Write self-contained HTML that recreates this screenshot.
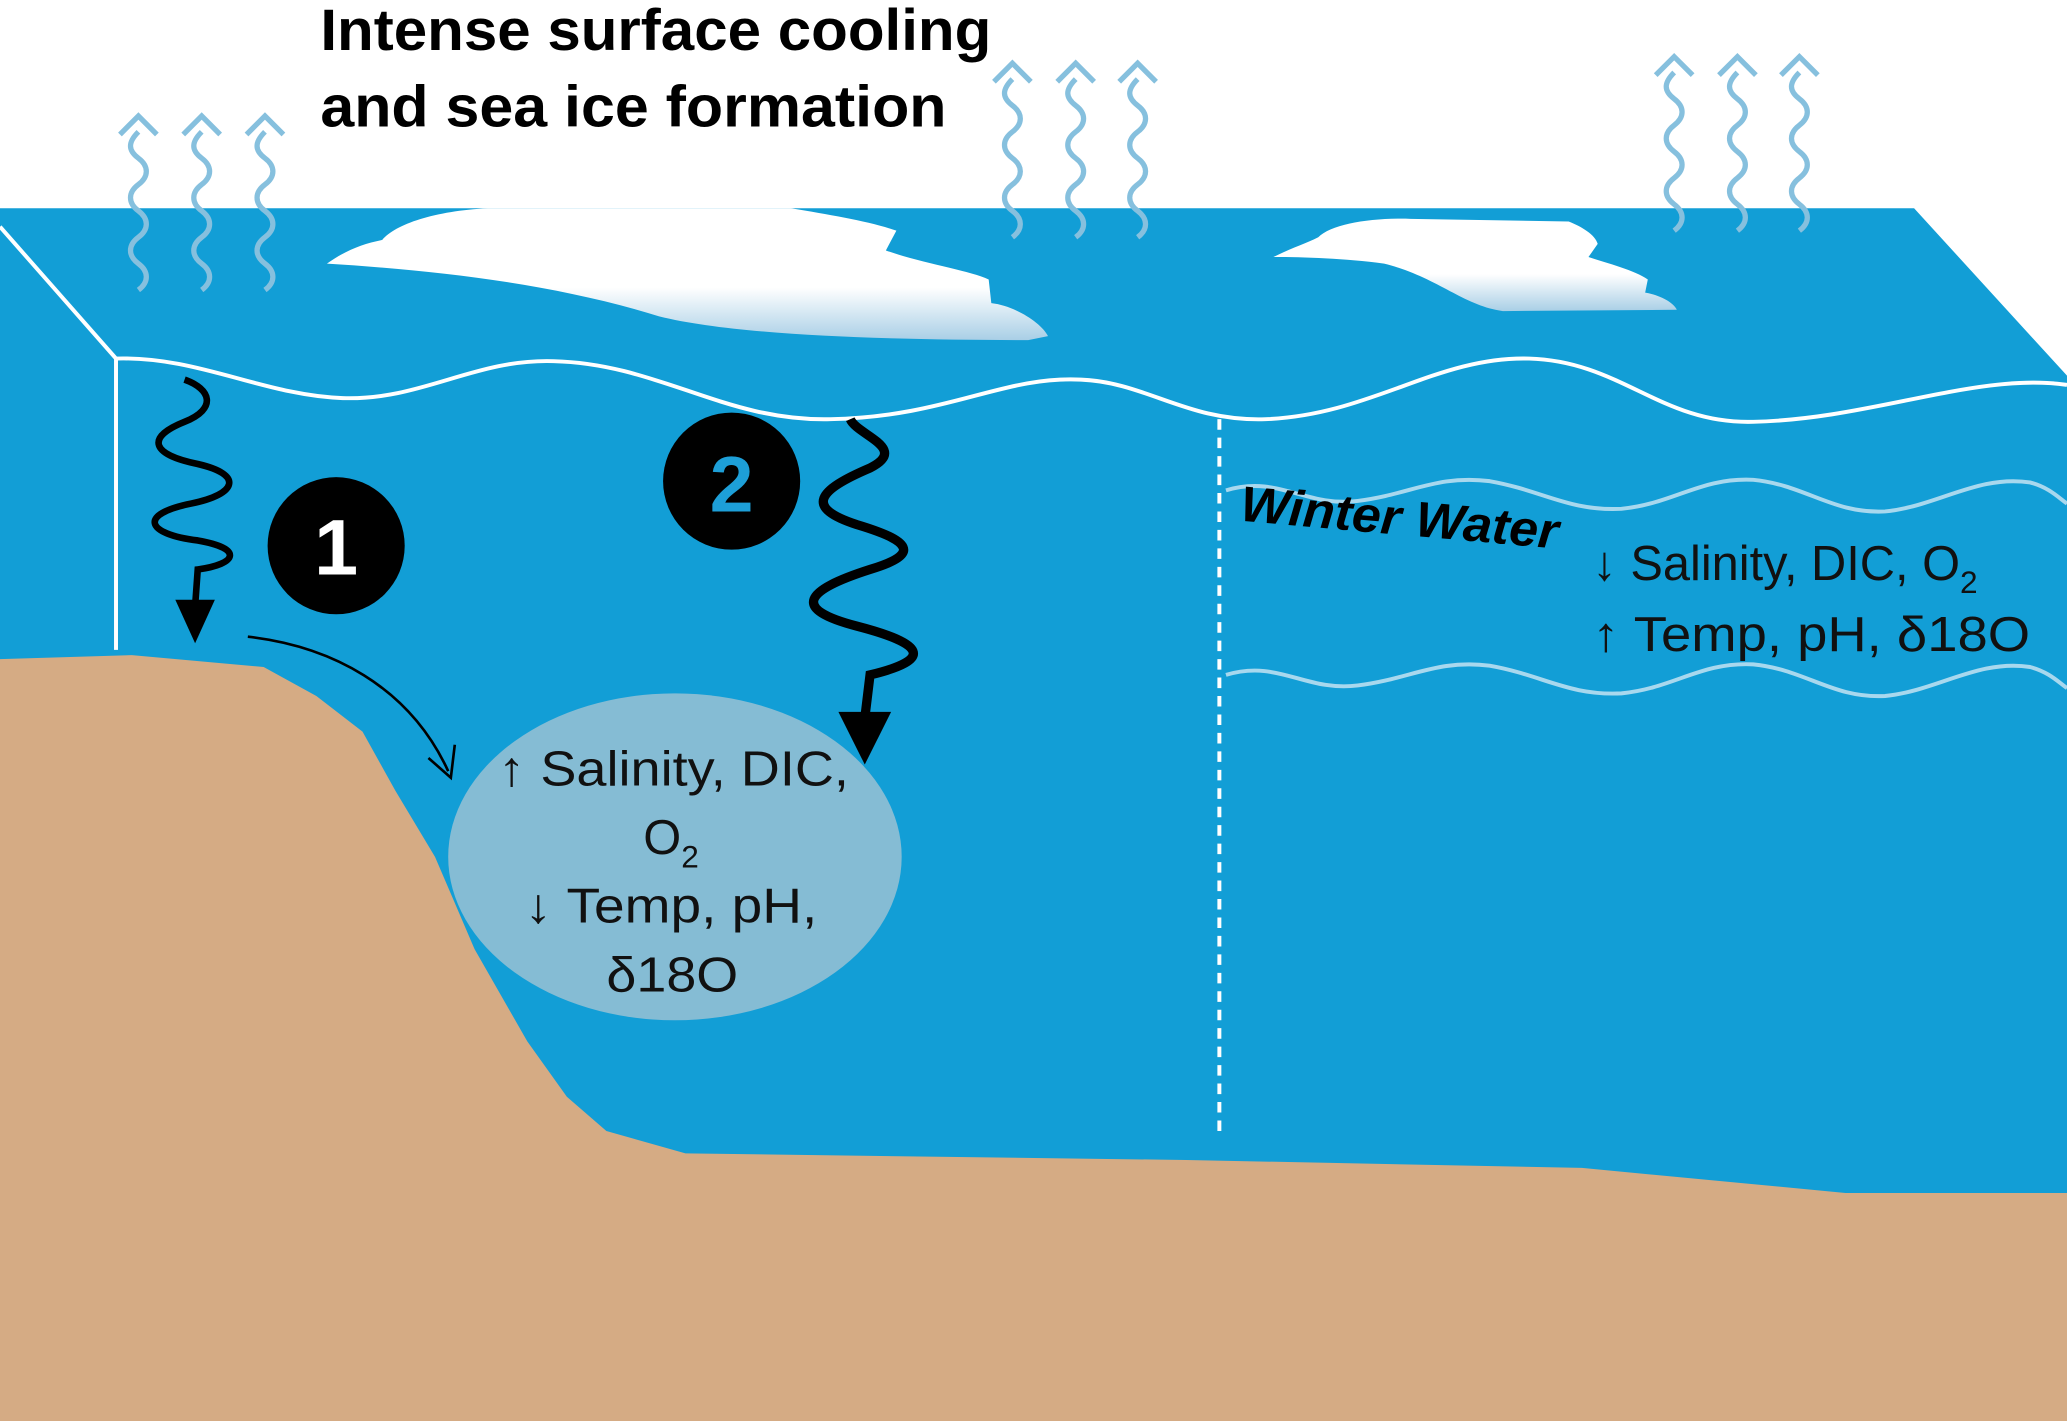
<!DOCTYPE html>
<html><head><meta charset="utf-8"><style>
html,body{margin:0;padding:0;background:#fff;}
svg{display:block;}
text{font-family:"Liberation Sans",sans-serif;}
</style></head><body>
<svg width="2067" height="1421" viewBox="0 0 1568 1078" preserveAspectRatio="none" xmlns="http://www.w3.org/2000/svg">
<defs>
<linearGradient id="ice" x1="0" y1="0" x2="0" y2="1">
<stop offset="0.6" stop-color="#ffffff"/><stop offset="1" stop-color="#a9cfe6"/></linearGradient>
<g id="up">
<path d="M0,0 c-8,8 -8,14 0,20 c8,6 8,14 0,20 c-8,6 -8,14 0,20 c8,6 8,14 0,20 c-8,6 -8,14 0,20 c8,6 8,14 0,20" fill="none" stroke="#86c0de" stroke-width="4"/>
</g>
</defs>
<rect width="1568" height="1078" fill="#fff"/>
<polygon points="0,158 1452,158 1568,285 1568,1078 0,1078" fill="#129ed6"/>
<path d="M248,200 C262,190 275,185 290,182 C300,170 330,160 370,158 L600,158 C630,163 660,168 680,175 L672,190 C700,200 735,205 750,212 L752,230 C770,232 790,245 795,255 L780,258 C680,258 560,255 500,240 C420,215 330,205 248,200 Z" fill="url(#ice)"/>
<path d="M966,195 C980,188 990,185 1000,180 C1010,170 1040,165 1070,166 L1190,168 C1200,172 1210,178 1212,185 L1205,195 C1220,200 1240,205 1250,212 L1248,222 C1260,224 1270,230 1272,235 L1140,236 C1110,232 1090,210 1050,200 C1020,196 990,195 966,195 Z" fill="url(#ice)"/>
<polyline points="0,172 88,272 88,493" fill="none" stroke="#fff" stroke-width="3"/>
<path d="M88,272 C150,270 200,300 260,302 C320,304 360,272 420,274 C500,276 550,320 630,318 C720,316 760,285 820,288 C870,290 900,320 960,318 C1040,315 1090,270 1160,272 C1230,274 1260,322 1330,320 C1420,318 1500,282 1568,292" fill="none" stroke="#fff" stroke-width="3"/>
<line x1="925" y1="318" x2="925" y2="862" stroke="#fff" stroke-width="3" stroke-dasharray="8,6"/>
<path d="M930,372 C970,360 990,385 1030,380 C1070,375 1090,360 1130,365 C1170,372 1190,388 1230,386 C1270,382 1290,362 1330,364 C1370,368 1390,390 1430,388 C1470,384 1500,360 1540,366 C1555,370 1562,378 1568,382" fill="none" stroke="#a8d8ee" stroke-width="3"/>
<path d="M930,512 C970,500 990,525 1030,520 C1070,515 1090,500 1130,505 C1170,512 1190,528 1230,526 C1270,522 1290,502 1330,504 C1370,508 1390,530 1430,528 C1470,524 1500,500 1540,506 C1555,510 1562,518 1568,522" fill="none" stroke="#a8d8ee" stroke-width="3"/>
<path d="M0,500 L100,497 L200,506 L240,528 L275,555 L300,600 L330,650 L360,720 L400,790 L430,832 L460,858 L520,875 L900,880 L1200,886 L1400,905 L1568,905 L1568,1078 L0,1078 Z" fill="#d5ab84"/>
<ellipse cx="512" cy="650" rx="172" ry="124" fill="#85bcd4"/>
<g transform="translate(105,100)"><use href="#up"/><path d="M-14,2 L0,-12 L14,2" fill="none" stroke="#86c0de" stroke-width="4"/></g>
<g transform="translate(153,100)"><use href="#up"/><path d="M-14,2 L0,-12 L14,2" fill="none" stroke="#86c0de" stroke-width="4"/></g>
<g transform="translate(201,100)"><use href="#up"/><path d="M-14,2 L0,-12 L14,2" fill="none" stroke="#86c0de" stroke-width="4"/></g>
<g transform="translate(768,60)"><use href="#up"/><path d="M-14,2 L0,-12 L14,2" fill="none" stroke="#86c0de" stroke-width="4"/></g>
<g transform="translate(816,60)"><use href="#up"/><path d="M-14,2 L0,-12 L14,2" fill="none" stroke="#86c0de" stroke-width="4"/></g>
<g transform="translate(863,60)"><use href="#up"/><path d="M-14,2 L0,-12 L14,2" fill="none" stroke="#86c0de" stroke-width="4"/></g>
<g transform="translate(1270,55)"><use href="#up"/><path d="M-14,2 L0,-12 L14,2" fill="none" stroke="#86c0de" stroke-width="4"/></g>
<g transform="translate(1318,55)"><use href="#up"/><path d="M-14,2 L0,-12 L14,2" fill="none" stroke="#86c0de" stroke-width="4"/></g>
<g transform="translate(1365,55)"><use href="#up"/><path d="M-14,2 L0,-12 L14,2" fill="none" stroke="#86c0de" stroke-width="4"/></g>
<path d="M140,288 C160,295 165,310 140,320 C110,332 115,345 150,352 C185,360 180,375 145,382 C105,390 110,405 150,410 C185,416 180,428 150,432 L148,460" fill="none" stroke="#000" stroke-width="5"/>
<polygon points="133,455 163,455 148,488" fill="#000"/>
<path d="M188,483 C250,490 310,520 340,585" fill="none" stroke="#000" stroke-width="2"/>
<path d="M325,575 L342,590 L345,565" fill="none" stroke="#000" stroke-width="2"/>
<path d="M645,318 C650,330 690,340 660,355 C620,372 610,385 650,398 C690,410 700,420 660,432 C610,448 600,462 650,475 C700,488 710,500 660,512 L656,545" fill="none" stroke="#000" stroke-width="7"/>
<polygon points="636,540 676,540 656,580" fill="#000"/>
<circle cx="255" cy="414" r="52" fill="#000"/>
<text x="255" y="436" font-size="60" font-weight="bold" fill="#fff" text-anchor="middle">1</text>
<circle cx="555" cy="365" r="52" fill="#000"/>
<text x="555" y="388" font-size="60" font-weight="bold" fill="#1d9fd8" text-anchor="middle">2</text>
<text x="243" y="38" font-size="44" font-weight="bold" fill="#000" textLength="509" lengthAdjust="spacingAndGlyphs">Intense surface cooling</text>
<text x="243" y="96" font-size="44" font-weight="bold" fill="#000" textLength="475" lengthAdjust="spacingAndGlyphs">and sea ice formation</text>
<g font-size="37" fill="#111">
<text x="378" y="596" textLength="266" lengthAdjust="spacingAndGlyphs">↑ Salinity, DIC,</text>
<text x="488" y="648">O<tspan font-size="24" dy="10">2</tspan></text>
<text x="398" y="700" textLength="222" lengthAdjust="spacingAndGlyphs">↓ Temp, pH,</text>
<text x="460" y="752" textLength="100" lengthAdjust="spacingAndGlyphs">δ18O</text>
</g>
<text x="940" y="395" font-size="38" font-weight="bold" font-style="italic" fill="#000" transform="rotate(5 940 395)" textLength="242" lengthAdjust="spacingAndGlyphs">Winter Water</text>
<g font-size="37" fill="#111">
<text x="1208" y="440">↓ Salinity, DIC, O<tspan font-size="24" dy="10">2</tspan></text>
<text x="1208" y="494" textLength="332" lengthAdjust="spacingAndGlyphs">↑ Temp, pH, δ18O</text>
</g>
</svg>
</body></html>
